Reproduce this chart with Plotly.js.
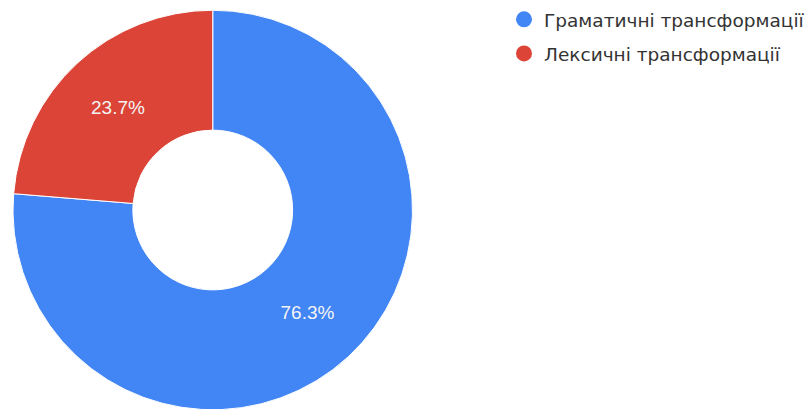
<!DOCTYPE html>
<html>
<head>
<meta charset="utf-8">
<script src="https://cdn.plot.ly/plotly-3.0.1.min.js"></script>
<style>html,body{margin:0;padding:0;background:#fff;}#chart{width:810px;height:410px;}</style>
</head>
<body>
<div id="chart"></div>
<script>
const categories = ["Граматичні трансформації", "Лексичні трансформації"];
const values = [76.3, 23.7];
const colors = ["#4285F4", "#DB4437"];

const pie = {
  type: "pie",
  labels: categories,
  values: values,
  sort: false,
  direction: "clockwise",
  rotation: 0,
  hole: 0.4,
  marker: {colors: colors, line: {color: "#ffffff", width: 1}},
  textinfo: "percent",
  texttemplate: "%{percent:.1%}",
  textposition: "inside",
  insidetextorientation: "horizontal",
  textfont: {family: "Liberation Sans, Arial, sans-serif", size: 19, color: "#f4f4f4"},
  showlegend: false,
  hoverinfo: "label+percent",
  domain: {x: [13/810, 413/810], y: [0, 400/410]}
};

const legendTraces = categories.map((c, i) => ({
  type: "scatter",
  mode: "markers",
  x: [null], y: [null],
  name: c,
  legendgroup: "g" + i,
  marker: {color: colors[i], size: 17, symbol: "circle"},
  showlegend: true,
  hoverinfo: "skip"
}));

const layout = {
  width: 810, height: 410,
  margin: {l: 0, r: 0, t: 0, b: 0},
  paper_bgcolor: "#ffffff",
  plot_bgcolor: "#ffffff",
  xaxis: {visible: false},
  yaxis: {visible: false},
  showlegend: true,
  legend: {
    x: 0.623, y: 0.998, xanchor: "left", yanchor: "top",
    font: {family: "DejaVu Sans, sans-serif", size: 18.5, color: "#333333"},
    itemsizing: "trace",
    traceorder: "grouped",
    tracegroupgap: 7,
    bgcolor: "rgba(0,0,0,0)"
  }
};

Plotly.newPlot("chart", [pie].concat(legendTraces), layout, {displayModeBar: false, staticPlot: true});
</script>
</body>
</html>
